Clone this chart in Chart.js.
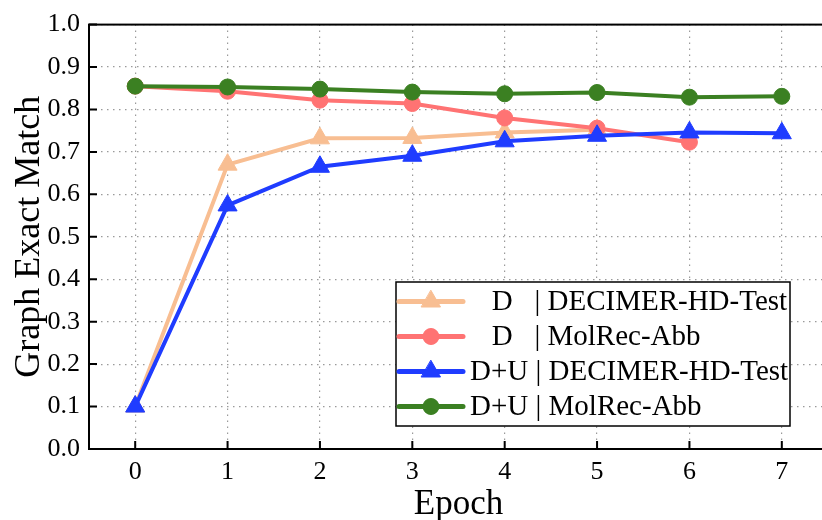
<!DOCTYPE html>
<html>
<head>
<meta charset="utf-8">
<script src="https://cdn.jsdelivr.net/npm/chart.js@4/dist/chart.umd.min.js"></script>
<style>
  html, body { margin: 0; padding: 0; background: #fff; overflow: hidden; }
  #wrap { width: 840px; height: 520px; }
</style>
</head>
<body>
<div id="wrap"><canvas id="c" width="840" height="520"></canvas></div>
<script>
"use strict";

/* ── Datos ─────────────────────────────────────────────── */
const epochs      = [0, 1, 2, 3, 4, 5, 6, 7];
const xTickValues = [0, 1, 2, 3, 4, 5, 6, 7];
const yTickValues = [0.0, 0.1, 0.2, 0.3, 0.4, 0.5, 0.6, 0.7, 0.8, 0.9, 1.0];

const dDecimer   = [0.100, 0.670, 0.732, 0.733, 0.746, 0.752];
const dMolrec    = [0.855, 0.843, 0.822, 0.814, 0.780, 0.756, 0.723];
const duDecimer  = [0.100, 0.574, 0.665, 0.691, 0.725, 0.738, 0.746, 0.744];
const duMolrec   = [0.855, 0.853, 0.848, 0.841, 0.837, 0.840, 0.829, 0.831];

const seriesLabels = [
  "   D   | DECIMER-HD-Test",
  "   D   | MolRec-Abb",
  "D+U | DECIMER-HD-Test",
  "D+U | MolRec-Abb",
];

const SERIF = "'Liberation Serif', 'Times New Roman', serif";

const COL_PEACH = "#F8BE92";
const COL_RED   = "#FF7373";
const COL_BLUE  = "#1F3CFF";
const COL_GREEN = "#3B8022";

function pts(vals) {
  return vals.map((v, i) => ({ x: epochs[i], y: v }));
}

function series(label, vals, color, style, radius, order) {
  return {
    label,
    data: pts(vals),
    borderColor: color,
    backgroundColor: color,
    borderWidth: 4,
    pointStyle: style,
    pointRadius: radius,
    pointHoverRadius: radius,
    pointBorderWidth: 1,
    pointBorderColor: color,
    pointBackgroundColor: color,
    tension: 0,
    order,
  };
}

/* ── Marco + ticks internos ────────────────────────────── */
const framePlugin = {
  id: "frame",
  afterDraw(chart) {
    const { ctx, chartArea: a, scales } = chart;
    ctx.save();
    ctx.strokeStyle = "#000";
    ctx.lineWidth = 2;
    ctx.strokeRect(a.left, a.top, a.right - a.left, a.bottom - a.top);
    ctx.beginPath();
    yTickValues.forEach(v => {
      const y = scales.y.getPixelForValue(v);
      ctx.moveTo(a.left, y);
      ctx.lineTo(a.left + 8, y);
    });
    xTickValues.forEach(v => {
      const x = scales.x.getPixelForValue(v);
      ctx.moveTo(x, a.bottom);
      ctx.lineTo(x, a.bottom - 8);
    });
    ctx.stroke();
    ctx.restore();
  }
};

/* ── Leyenda propia ────────────────────────────────────── */
const legendPlugin = {
  id: "boxLegend",
  afterDraw(chart) {
    const { ctx } = chart;
    const box = { x: 396, y: 282, w: 394, h: 144 };
    ctx.save();
    ctx.fillStyle = "#fff";
    ctx.fillRect(box.x, box.y, box.w, box.h);
    ctx.strokeStyle = "#000";
    ctx.lineWidth = 1.5;
    ctx.strokeRect(box.x, box.y, box.w, box.h);

    chart.data.datasets.forEach((ds, row) => {
      const cy = box.y + 19.5 + row * 35;
      ctx.strokeStyle = ds.borderColor;
      ctx.lineWidth = 5;
      ctx.lineCap = "round";
      ctx.beginPath();
      ctx.moveTo(399, cy);
      ctx.lineTo(463, cy);
      ctx.stroke();
      ctx.fillStyle = ds.borderColor;
      ctx.lineWidth = 1;
      Chart.helpers.drawPoint(ctx, {
        pointStyle: ds.pointStyle, radius: ds.pointRadius, rotation: 0, borderWidth: 1
      }, 431, cy);
      ctx.fillStyle = "#000";
      ctx.font = "29px " + SERIF;
      ctx.textAlign = "left";
      ctx.textBaseline = "middle";
      ctx.fillText(ds.label, 470, cy + 1);
    });
    ctx.restore();
  }
};

new Chart(document.getElementById("c"), {
  type: "line",
  data: {
    datasets: [
      series(seriesLabels[0], dDecimer,  COL_PEACH, "triangle", 11, 4),
      series(seriesLabels[1], dMolrec,   COL_RED,   "circle",   8,  3),
      series(seriesLabels[2], duDecimer, COL_BLUE,  "triangle", 11, 2),
      series(seriesLabels[3], duMolrec,  COL_GREEN, "circle",   8,  1),
    ]
  },
  plugins: [framePlugin, legendPlugin],
  options: {
    responsive: false,
    animation: false,
    layout: { padding: { top: 21, right: 10, left: 0, bottom: 0 } },
    scales: {
      x: {
        type: "linear",
        min: -0.5, max: 7.5,
        afterFit: s => { s.height = 71; },
        afterBuildTicks: s => { s.ticks = xTickValues.map(v => ({ value: v })); },
        ticks: {
          color: "#000", padding: 8,
          font: { family: SERIF, size: 26 },
          callback: v => String(v),
        },
        grid: { color: "#9a9a9a", lineWidth: 1.2, drawTicks: false },
        border: { display: false, dash: [1.5, 4.5] },
        title: {
          display: true, text: "Epoch", color: "#000",
          font: { family: SERIF, size: 35, lineHeight: 0.85 }, padding: { top: 0, bottom: 0 },
        },
      },
      y: {
        type: "linear",
        min: 0, max: 1,
        afterFit: s => { s.width = 89; },
        afterBuildTicks: s => { s.ticks = yTickValues.map(v => ({ value: v })); },
        ticks: {
          color: "#000", padding: 9,
          font: { family: SERIF, size: 26 },
          callback: v => v.toFixed(1),
        },
        grid: { color: "#9a9a9a", lineWidth: 1.2, drawTicks: false },
        border: { display: false, dash: [1.5, 4.5] },
        title: {
          display: true, text: "Graph Exact Match", color: "#000",
          font: { family: SERIF, size: 36 }, padding: { top: 8, bottom: 0 },
        },
      },
    },
    plugins: {
      legend: { display: false },
      tooltip: { enabled: false },
    },
  },
});
</script>
</body>
</html>
